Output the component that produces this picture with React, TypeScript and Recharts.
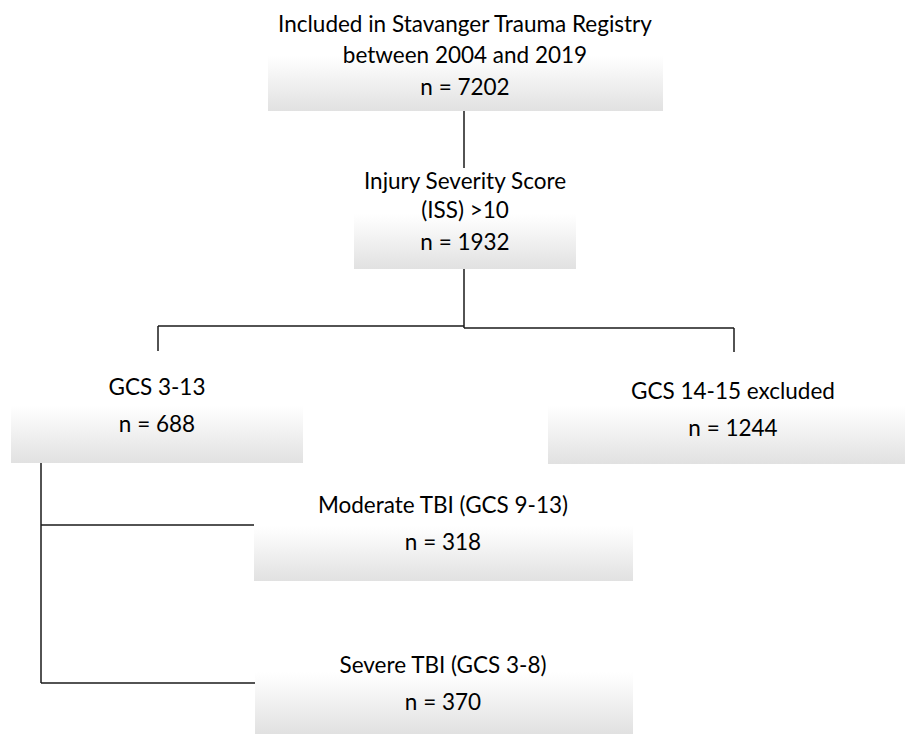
import React from 'react';
import {
  ComposedChart,
  XAxis,
  YAxis,
  ReferenceArea,
  ReferenceLine,
  Scatter,
} from 'recharts';

// flowchart content
const stepTitles = [
  ['Included in Stavanger Trauma Registry', 'between 2004 and 2019'],
  ['Injury Severity Score', '(ISS) >10'],
  ['GCS 3-13'],
  ['GCS 14-15 excluded'],
  ['Moderate TBI (GCS 9-13)'],
  ['Severe TBI (GCS 3-8)'],
];
const stepCounts = [7202, 1932, 688, 1244, 318, 370];

// layout (pixel space of the 905x734 canvas)
const boxRects = [
  { x1: 268, x2: 663, y1: 55, y2: 111 },
  { x1: 354, x2: 576, y1: 214, y2: 269 },
  { x1: 11, x2: 303, y1: 405, y2: 463 },
  { x1: 548, x2: 905, y1: 405, y2: 464 },
  { x1: 254, x2: 633, y1: 526, y2: 581 },
  { x1: 255, x2: 633, y1: 672, y2: 734 },
];
const textCenters = [465, 465, 157, 733, 443, 443];
const titleBaselines = [
  [32, 63],
  [189, 218],
  [395],
  [399],
  [513],
  [673],
];
const countBaselines = [95, 250, 432, 436, 550, 710];

const connectors = [
  [{ x: 464, y: 111 }, { x: 464, y: 168 }],
  [{ x: 464, y: 269 }, { x: 464, y: 328 }],
  [{ x: 158, y: 326 }, { x: 464, y: 326 }],
  [{ x: 464, y: 328 }, { x: 734, y: 328 }],
  [{ x: 158, y: 326 }, { x: 158, y: 351 }],
  [{ x: 734, y: 328 }, { x: 734, y: 352 }],
  [{ x: 41, y: 463 }, { x: 41, y: 683 }],
  [{ x: 41, y: 525 }, { x: 254, y: 525 }],
  [{ x: 41, y: 683 }, { x: 255, y: 683 }],
];

const textItems = stepTitles.flatMap((lines, i) => [
  ...lines.map((t, j) => ({ x: textCenters[i], y: titleBaselines[i][j], text: t })),
  { x: textCenters[i], y: countBaselines[i], text: `n = ${stepCounts[i]}` },
]);

const FONT = 'Lato, "Open Sans", sans-serif';

const TextShape = (props: any) => {
  const { cx, cy, payload } = props;
  return (
    <text
      x={cx}
      y={cy}
      textAnchor="middle"
      fontFamily={FONT}
      fontSize={22.5}
      fill="#000"
    >
      {payload.text}
    </text>
  );
};

export default function App() {
  return (
    <div style={{ position: 'absolute', left: 0, top: 0, background: '#fff' }}>
      <ComposedChart
        width={905}
        height={734}
        margin={{ top: 0, right: 0, bottom: 0, left: 0 }}
        data={textItems}
      >
        <defs>
          <linearGradient id="boxGrad" x1="0" y1="0" x2="0" y2="1">
            <stop offset="0%" stopColor="#ffffff" />
            <stop offset="15%" stopColor="#fbfbfb" />
            <stop offset="100%" stopColor="#e1e1e1" />
          </linearGradient>
        </defs>
        <XAxis type="number" dataKey="x" domain={[0, 905]} hide allowDataOverflow />
        <YAxis type="number" dataKey="y" domain={[0, 734]} reversed hide allowDataOverflow />
        {boxRects.map((b, i) => (
          <ReferenceArea
            key={`box-${i}`}
            x1={b.x1}
            x2={b.x2}
            y1={b.y1}
            y2={b.y2}
            fill="url(#boxGrad)"
            fillOpacity={1}
            stroke="none"
            ifOverflow="visible"
          />
        ))}
        {connectors.map((seg, i) => (
          <ReferenceLine
            key={`line-${i}`}
            segment={seg}
            stroke="#1a1a1a"
            strokeWidth={1.5}
            ifOverflow="visible"
          />
        ))}
        <Scatter
          data={textItems}
          dataKey="y"
          shape={<TextShape />}
          isAnimationActive={false}
        />
      </ComposedChart>
    </div>
  );
}
